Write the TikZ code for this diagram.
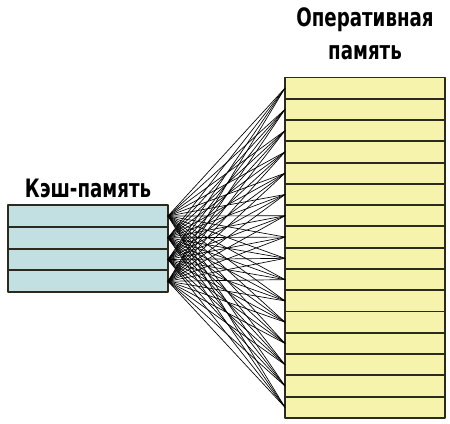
\documentclass[tikz,border=0pt]{standalone}
\usepackage{fontspec}
\setmainfont{DejaVu Sans}[FakeStretch=0.72]
\usetikzlibrary{calc}
\definecolor{cachefill}{HTML}{C2DFE2}
\definecolor{ramfill}{HTML}{F6F3AC}
\definecolor{rowline}{HTML}{2A2A1E}
\def\numcache{4}
\def\numram{16}
\def\cachey{216}
\def\cachestep{21.75}
\def\ramy{88.1}
\def\ramstep{21.28}

\tikzset{
	cacherow/.style = {draw = rowline, line width = 1.4pt, fill = cachefill, minimum width = 120pt, minimum height = 16.3pt, inner sep = 0pt, outer sep = 0pt},
	ramrow/.style = {draw = rowline, line width = 1.4pt, fill = ramfill, minimum width = 120pt, minimum height = 15.96pt, inner sep = 0pt, outer sep = 0pt},
	title/.style = {font = \fontsize{19}{22}\selectfont\bfseries, text = black},
	wire/.style = {black, line width = 0.5pt}
}

\begin{document}
\begin{tikzpicture}[x = 0.75pt, y = -0.75pt, line cap = round, line join = round]
		% Frame
		\useasboundingbox (0,0) rectangle (450,424);
		
		% Cache
		\foreach \i in {1,...,\numcache} {
			\node[cacherow] (c\i) at (88, {\cachey + (\i-1)*\cachestep}) {};
		}
		
		% RAM
		\foreach \j in {1,...,\numram} {
			\node[ramrow] (r\j) at (365, {\ramy + (\j-1)*\ramstep}) {};
		}
		
		% Wires
		\foreach \i in {1,...,\numcache} {
			\foreach \j in {1,...,\numram} {
				\draw[wire] (c\i.east) -- (r\j.west);
			}
		}
		
		% Labels
		\node[title] (cachelabel) at (88,188) {Кэш-память};
		\node[title] (ramlabel1) at (365,20) {Оперативная};
		\node[title] (ramlabel2) at (365,53) {память};
	\end{tikzpicture}
\end{document}
